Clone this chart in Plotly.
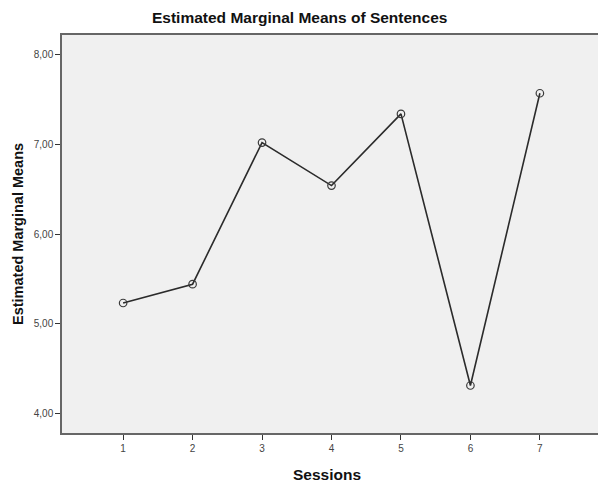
import plotly.graph_objects as go

sessions = [1, 2, 3, 4, 5, 6, 7]
means = [5.23, 5.44, 7.02, 6.54, 7.34, 4.31, 7.57]
y_ticks = [4, 5, 6, 7, 8]

# The page body has an 8px default margin, so the figure is sized 8px smaller
# and the margins are reduced so the plot lands where the reference has it.
fig = go.Figure()
fig.add_trace(go.Scatter(
    x=sessions, y=means, mode="lines+markers",
    line=dict(color="#2b2b2b", width=1.6),
    marker=dict(symbol="circle-open", size=7.5, color="#3a3a3a", line=dict(width=1.2)),
    showlegend=False,
))

fig.update_layout(
    width=598, height=475,
    margin=dict(l=54, r=5, t=27, b=50, autoexpand=False),
    paper_bgcolor="white",
    plot_bgcolor="#f0f0f0",
    separators=",.",
    font=dict(family="Liberation Sans, Arial, sans-serif", color="#222"),
    xaxis=dict(
        range=[0.12, 7.88], tickmode="array", tickvals=sessions,
        ticks="outside", ticklen=5, tickcolor="#333", tickwidth=1.2,
        showgrid=False, zeroline=False, automargin=False,
        showline=True, linecolor="#666", linewidth=1.5, mirror=True,
        tickfont=dict(size=10, color="#444"),
    ),
    yaxis=dict(
        range=[3.78, 8.22], tickmode="array", tickvals=y_ticks,
        tickformat=".2f", automargin=False,
        ticks="outside", ticklen=5, tickcolor="#333", tickwidth=1.2,
        showgrid=False, zeroline=False,
        showline=True, linecolor="#666", linewidth=1.5, mirror=True,
        tickfont=dict(size=10, color="#444"),
    ),
    annotations=[
        dict(text="<b>Estimated Marginal Means of Sentences</b>", xref="paper", yref="paper",
             x=0.44, y=1, xanchor="center", yanchor="middle", yshift=18, showarrow=False,
             font=dict(size=15.5, color="#111")),
        dict(text="<b>Sessions</b>", xref="paper", yref="paper",
             x=0.491, y=0, xanchor="center", yanchor="middle", yshift=-41, showarrow=False,
             font=dict(size=15.5, color="#111")),
        dict(text="<b>Estimated Marginal Means</b>", xref="paper", yref="paper",
             x=0, y=0.5, xanchor="center", yanchor="middle", xshift=-44, textangle=-90,
             showarrow=False, font=dict(size=14.5, color="#111")),
    ],
)

fig.write_html("out.html")
